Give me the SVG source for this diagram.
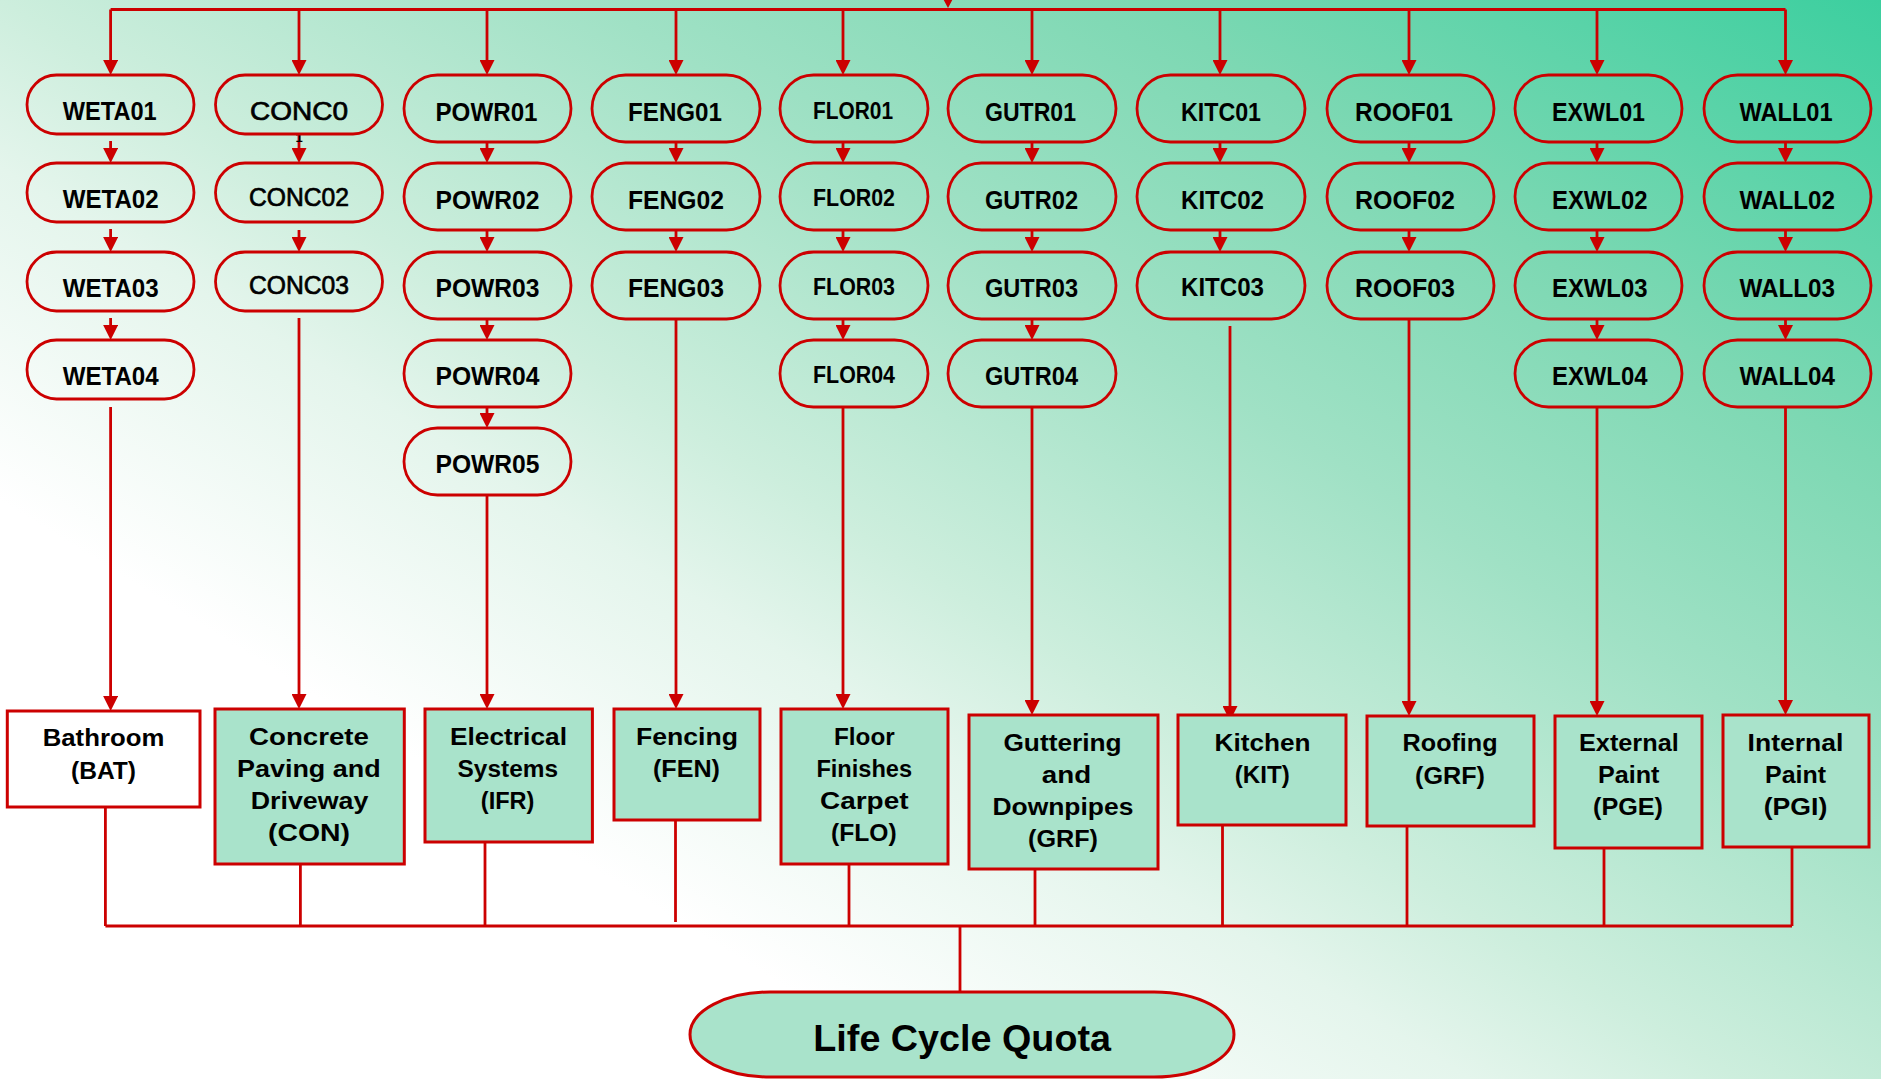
<svg xmlns="http://www.w3.org/2000/svg" width="1881" height="1079" viewBox="0 0 1881 1079">
<defs>
<linearGradient id="bg" gradientUnits="userSpaceOnUse" x1="1135" y1="1204" x2="1881" y2="0">
<stop offset="0" stop-color="#ffffff"/>
<stop offset="0.2" stop-color="#e4f5ec"/>
<stop offset="0.3" stop-color="#cdeedd"/>
<stop offset="0.52" stop-color="#a0e1c5"/>
<stop offset="0.72" stop-color="#7dd8b3"/>
<stop offset="1" stop-color="#3ccf9f"/>
</linearGradient>
<marker id="ah" markerUnits="userSpaceOnUse" markerWidth="15" markerHeight="15" viewBox="0 0 15 15" refX="0" refY="7.5" orient="auto">
<path d="M0,0 L15,7.5 L0,15 Z" fill="#cc0000"/>
</marker>
</defs>
<style>
.pill{fill:none;stroke:#cc0000;stroke-width:2.8}
.box{fill:#a9e3cb;stroke:#cc0000;stroke-width:3}
.open{fill:none}
.t{font-family:"Liberation Sans",Arial,sans-serif;font-weight:bold;font-size:25.5px;fill:#000}
.n{font-weight:normal;stroke:#000;stroke-width:0.7}
.s{font-size:24.5px}
.b{font-family:"Liberation Sans",Arial,sans-serif;font-weight:bold;font-size:23px;fill:#000}
.big{font-family:"Liberation Sans",Arial,sans-serif;font-weight:bold;font-size:36px;fill:#000}
.ln{fill:none;stroke:#cc0000;stroke-width:2.8}
.ar{marker-end:url(#ah)}
</style>
<rect x="0" y="0" width="1881" height="1079" fill="url(#bg)"/>

<g id="connectors">
<polygon points="940,-7 956,-7 948,8" fill="#cc0000"/>
<path class="ln" d="M110.6,9.5 H1785.5"/>
<g class="ln ar">
<path d="M110.6,9.5 V60"/><path d="M299,9.5 V60"/><path d="M487,9.5 V60"/><path d="M676,9.5 V60"/><path d="M843,9.5 V60"/>
<path d="M1032,9.5 V60"/><path d="M1220,9.5 V60"/><path d="M1409,9.5 V60"/><path d="M1597,9.5 V60"/><path d="M1785.5,9.5 V60"/>
<path d="M110.6,141 V148"/><path d="M110.6,229 V237"/><path d="M110.6,318 V325"/>
<path d="M299,134 V148"/><path d="M299,230 V237"/>
<path d="M487,142 V148"/><path d="M487,230 V237"/><path d="M487,319 V325"/><path d="M487,407 V413"/>
<path d="M676,142 V148"/><path d="M676,230 V237"/>
<path d="M843,142 V148"/><path d="M843,230 V237"/><path d="M843,319 V325"/>
<path d="M1032,142 V148"/><path d="M1032,230 V237"/><path d="M1032,319 V325"/>
<path d="M1220,142 V148"/><path d="M1220,230 V237"/>
<path d="M1409,142 V148"/><path d="M1409,230 V237"/>
<path d="M1597,142 V148"/><path d="M1597,230 V237"/><path d="M1597,319 V325"/>
<path d="M1785.5,142 V148"/><path d="M1785.5,230 V237"/><path d="M1785.5,319 V325"/>
<path d="M110.6,407 V696"/><path d="M299,318 V694"/><path d="M487,495 V694"/><path d="M676,319 V694"/><path d="M843,407 V694"/>
<path d="M1032,407 V700"/><path d="M1230,326 V706"/><path d="M1409,319 V701"/><path d="M1597,407 V701"/><path d="M1785.5,407 V700"/>
</g>
<g class="ln">
<path d="M105.4,807 V926"/><path d="M300.4,864 V926"/><path d="M485,842 V926"/><path d="M675.5,820 V922"/><path d="M849,864 V926"/>
<path d="M1035,869 V926"/><path d="M1222.5,825 V926"/><path d="M1407,826 V926"/><path d="M1604,848 V926"/><path d="M1792,847 V926"/>
<path d="M105.4,926 H1792"/><path d="M960,926 V992"/>
</g>
</g>

<g id="WETA01"><rect class="pill" x="27" y="75" width="167" height="59" rx="29.5"/><text class="t" x="62.7" y="120" textLength="94" lengthAdjust="spacingAndGlyphs">WETA01</text></g>
<g id="WETA02"><rect class="pill" x="27" y="163" width="167" height="59" rx="29.5"/><text class="t" x="62.7" y="208" textLength="96" lengthAdjust="spacingAndGlyphs">WETA02</text></g>
<g id="WETA03"><rect class="pill" x="27" y="252" width="167" height="59" rx="29.5"/><text class="t" x="62.7" y="297" textLength="96" lengthAdjust="spacingAndGlyphs">WETA03</text></g>
<g id="WETA04"><rect class="pill" x="27" y="340" width="167" height="59" rx="29.5"/><text class="t" x="62.7" y="385" textLength="96" lengthAdjust="spacingAndGlyphs">WETA04</text></g>

<g id="CONC0"><text class="t" x="299" y="142" text-anchor="middle" style="font-size:13px">1</text><rect class="pill" x="215.5" y="75" width="167" height="59" rx="29.5"/><text class="t n" x="250" y="120" textLength="98" lengthAdjust="spacingAndGlyphs">CONC0</text></g>
<g id="CONC02"><rect class="pill" x="215.5" y="163" width="167" height="59" rx="29.5"/><text class="t n" x="249" y="206" textLength="100" lengthAdjust="spacingAndGlyphs">CONC02</text></g>
<g id="CONC03"><rect class="pill" x="215.5" y="252" width="167" height="59" rx="29.5"/><text class="t n" x="249" y="294" textLength="100" lengthAdjust="spacingAndGlyphs">CONC03</text></g>

<g id="POWR01"><rect class="pill" x="404" y="75" width="167" height="67" rx="33.5"/><text class="t" x="435.5" y="121" textLength="102" lengthAdjust="spacingAndGlyphs">POWR01</text></g>
<g id="POWR02"><rect class="pill" x="404" y="163" width="167" height="67" rx="33.5"/><text class="t" x="435.5" y="209" textLength="104" lengthAdjust="spacingAndGlyphs">POWR02</text></g>
<g id="POWR03"><rect class="pill" x="404" y="252" width="167" height="67" rx="33.5"/><text class="t" x="435.5" y="297" textLength="104" lengthAdjust="spacingAndGlyphs">POWR03</text></g>
<g id="POWR04"><rect class="pill" x="404" y="340" width="167" height="67" rx="33.5"/><text class="t" x="435.5" y="385" textLength="104" lengthAdjust="spacingAndGlyphs">POWR04</text></g>
<g id="POWR05"><rect class="pill" x="404" y="428" width="167" height="67" rx="33.5"/><text class="t" x="435.5" y="473" textLength="104" lengthAdjust="spacingAndGlyphs">POWR05</text></g>

<g id="FENG01"><rect class="pill" x="592" y="75" width="168" height="67" rx="33.5"/><text class="t" x="628" y="121" textLength="94" lengthAdjust="spacingAndGlyphs">FENG01</text></g>
<g id="FENG02"><rect class="pill" x="592" y="163" width="168" height="67" rx="33.5"/><text class="t" x="628" y="209" textLength="96" lengthAdjust="spacingAndGlyphs">FENG02</text></g>
<g id="FENG03"><rect class="pill" x="592" y="252" width="168" height="67" rx="33.5"/><text class="t" x="628" y="297" textLength="96" lengthAdjust="spacingAndGlyphs">FENG03</text></g>

<g id="FLOR01"><rect class="pill" x="780" y="75" width="148" height="67" rx="33.5"/><text class="t s" x="813" y="118.5" textLength="80" lengthAdjust="spacingAndGlyphs">FLOR01</text></g>
<g id="FLOR02"><rect class="pill" x="780" y="163" width="148" height="67" rx="33.5"/><text class="t s" x="813" y="206" textLength="82" lengthAdjust="spacingAndGlyphs">FLOR02</text></g>
<g id="FLOR03"><rect class="pill" x="780" y="252" width="148" height="67" rx="33.5"/><text class="t s" x="813" y="294.5" textLength="82" lengthAdjust="spacingAndGlyphs">FLOR03</text></g>
<g id="FLOR04"><rect class="pill" x="780" y="340" width="148" height="67" rx="33.5"/><text class="t s" x="813" y="383" textLength="82" lengthAdjust="spacingAndGlyphs">FLOR04</text></g>

<g id="GUTR01"><rect class="pill" x="948" y="75" width="168" height="67" rx="33.5"/><text class="t" x="985" y="121" textLength="91" lengthAdjust="spacingAndGlyphs">GUTR01</text></g>
<g id="GUTR02"><rect class="pill" x="948" y="163" width="168" height="67" rx="33.5"/><text class="t" x="985" y="209" textLength="93" lengthAdjust="spacingAndGlyphs">GUTR02</text></g>
<g id="GUTR03"><rect class="pill" x="948" y="252" width="168" height="67" rx="33.5"/><text class="t" x="985" y="297" textLength="93" lengthAdjust="spacingAndGlyphs">GUTR03</text></g>
<g id="GUTR04"><rect class="pill" x="948" y="340" width="168" height="67" rx="33.5"/><text class="t" x="985" y="385" textLength="93" lengthAdjust="spacingAndGlyphs">GUTR04</text></g>

<g id="KITC01"><rect class="pill" x="1137" y="75" width="168" height="67" rx="33.5"/><text class="t" x="1181" y="121" textLength="80" lengthAdjust="spacingAndGlyphs">KITC01</text></g>
<g id="KITC02"><rect class="pill" x="1137" y="163" width="168" height="67" rx="33.5"/><text class="t" x="1181" y="209" textLength="83" lengthAdjust="spacingAndGlyphs">KITC02</text></g>
<g id="KITC03"><rect class="pill" x="1137" y="252" width="168" height="67" rx="33.5"/><text class="t" x="1181" y="296" textLength="83" lengthAdjust="spacingAndGlyphs">KITC03</text></g>

<g id="ROOF01"><rect class="pill" x="1327" y="75" width="167" height="67" rx="33.5"/><text class="t" x="1355" y="121" textLength="98" lengthAdjust="spacingAndGlyphs">ROOF01</text></g>
<g id="ROOF02"><rect class="pill" x="1327" y="163" width="167" height="67" rx="33.5"/><text class="t" x="1355" y="209" textLength="100" lengthAdjust="spacingAndGlyphs">ROOF02</text></g>
<g id="ROOF03"><rect class="pill" x="1327" y="252" width="167" height="67" rx="33.5"/><text class="t" x="1355" y="297" textLength="100" lengthAdjust="spacingAndGlyphs">ROOF03</text></g>

<g id="EXWL01"><rect class="pill" x="1515" y="75" width="167" height="67" rx="33.5"/><text class="t" x="1552" y="121" textLength="93" lengthAdjust="spacingAndGlyphs">EXWL01</text></g>
<g id="EXWL02"><rect class="pill" x="1515" y="163" width="167" height="67" rx="33.5"/><text class="t" x="1552" y="209" textLength="95.5" lengthAdjust="spacingAndGlyphs">EXWL02</text></g>
<g id="EXWL03"><rect class="pill" x="1515" y="252" width="167" height="67" rx="33.5"/><text class="t" x="1552" y="297" textLength="95.5" lengthAdjust="spacingAndGlyphs">EXWL03</text></g>
<g id="EXWL04"><rect class="pill" x="1515" y="340" width="167" height="67" rx="33.5"/><text class="t" x="1552" y="385" textLength="95.5" lengthAdjust="spacingAndGlyphs">EXWL04</text></g>

<g id="WALL01"><rect class="pill" x="1704" y="75" width="167" height="67" rx="33.5"/><text class="t" x="1739.5" y="121" textLength="93" lengthAdjust="spacingAndGlyphs">WALL01</text></g>
<g id="WALL02"><rect class="pill" x="1704" y="163" width="167" height="67" rx="33.5"/><text class="t" x="1739.5" y="209" textLength="95.5" lengthAdjust="spacingAndGlyphs">WALL02</text></g>
<g id="WALL03"><rect class="pill" x="1704" y="252" width="167" height="67" rx="33.5"/><text class="t" x="1739.5" y="297" textLength="95.5" lengthAdjust="spacingAndGlyphs">WALL03</text></g>
<g id="WALL04"><rect class="pill" x="1704" y="340" width="167" height="67" rx="33.5"/><text class="t" x="1739.5" y="385" textLength="95.5" lengthAdjust="spacingAndGlyphs">WALL04</text></g>

<g id="BAT"><rect class="box open" x="7.3" y="711" width="192.7" height="96"/>
<text class="b" x="42.7" y="746" textLength="121.6" lengthAdjust="spacingAndGlyphs">Bathroom</text>
<text class="b" x="71" y="779" textLength="65" lengthAdjust="spacingAndGlyphs">(BAT)</text></g>

<g id="CON"><rect class="box" x="215" y="709" width="189.3" height="155"/>
<text class="b" x="249" y="745" textLength="120" lengthAdjust="spacingAndGlyphs">Concrete</text>
<text class="b" x="237" y="777" textLength="143.7" lengthAdjust="spacingAndGlyphs">Paving and</text>
<text class="b" x="250.7" y="809" textLength="117.6" lengthAdjust="spacingAndGlyphs">Driveway</text>
<text class="b" x="268" y="841" textLength="82" lengthAdjust="spacingAndGlyphs">(CON)</text></g>

<g id="IFR"><rect class="box" x="425" y="709" width="167.4" height="133"/>
<text class="b" x="450" y="745" textLength="117" lengthAdjust="spacingAndGlyphs">Electrical</text>
<text class="b" x="457.6" y="777" textLength="100.4" lengthAdjust="spacingAndGlyphs">Systems</text>
<text class="b" x="480.8" y="809" textLength="53.6" lengthAdjust="spacingAndGlyphs">(IFR)</text></g>

<g id="FEN"><rect class="box" x="614" y="709" width="146" height="111"/>
<text class="b" x="636" y="745" textLength="102" lengthAdjust="spacingAndGlyphs">Fencing</text>
<text class="b" x="653" y="777" textLength="67" lengthAdjust="spacingAndGlyphs">(FEN)</text></g>

<g id="FLO"><rect class="box" x="781" y="709" width="167" height="155"/>
<text class="b" x="834" y="745" textLength="60.7" lengthAdjust="spacingAndGlyphs">Floor</text>
<text class="b" x="816.4" y="777" textLength="95.7" lengthAdjust="spacingAndGlyphs">Finishes</text>
<text class="b" x="820" y="809" textLength="88.5" lengthAdjust="spacingAndGlyphs">Carpet</text>
<text class="b" x="831" y="841" textLength="65.6" lengthAdjust="spacingAndGlyphs">(FLO)</text></g>

<g id="GRF1"><rect class="box" x="969" y="715" width="189" height="154"/>
<text class="b" x="1003.4" y="751" textLength="118.3" lengthAdjust="spacingAndGlyphs">Guttering</text>
<text class="b" x="1041.8" y="783" textLength="49.4" lengthAdjust="spacingAndGlyphs">and</text>
<text class="b" x="992.4" y="815" textLength="141" lengthAdjust="spacingAndGlyphs">Downpipes</text>
<text class="b" x="1028" y="847" textLength="70" lengthAdjust="spacingAndGlyphs">(GRF)</text></g>

<g id="KIT"><rect class="box" x="1178" y="715" width="168" height="110"/>
<text class="b" x="1214.6" y="751" textLength="96" lengthAdjust="spacingAndGlyphs">Kitchen</text>
<text class="b" x="1234.8" y="783" textLength="55" lengthAdjust="spacingAndGlyphs">(KIT)</text></g>

<g id="GRF2"><rect class="box" x="1367" y="716" width="167" height="110"/>
<text class="b" x="1402.6" y="751" textLength="95" lengthAdjust="spacingAndGlyphs">Roofing</text>
<text class="b" x="1415" y="784" textLength="70" lengthAdjust="spacingAndGlyphs">(GRF)</text></g>

<g id="PGE"><rect class="box" x="1555" y="716" width="147" height="132"/>
<text class="b" x="1579" y="751" textLength="99.7" lengthAdjust="spacingAndGlyphs">External</text>
<text class="b" x="1598" y="783" textLength="61.5" lengthAdjust="spacingAndGlyphs">Paint</text>
<text class="b" x="1593" y="815" textLength="70" lengthAdjust="spacingAndGlyphs">(PGE)</text></g>

<g id="PGI"><rect class="box" x="1723" y="715" width="146" height="132"/>
<text class="b" x="1747.6" y="751" textLength="95.8" lengthAdjust="spacingAndGlyphs">Internal</text>
<text class="b" x="1765" y="783" textLength="61" lengthAdjust="spacingAndGlyphs">Paint</text>
<text class="b" x="1763.7" y="815" textLength="63.6" lengthAdjust="spacingAndGlyphs">(PGI)</text></g>

<g id="LCQ"><rect class="box" x="690" y="992" width="544" height="85" rx="80" ry="42.5"/>
<text class="big" x="813.3" y="1050.7" textLength="297.7" lengthAdjust="spacingAndGlyphs">Life Cycle Quota</text></g>
</svg>
